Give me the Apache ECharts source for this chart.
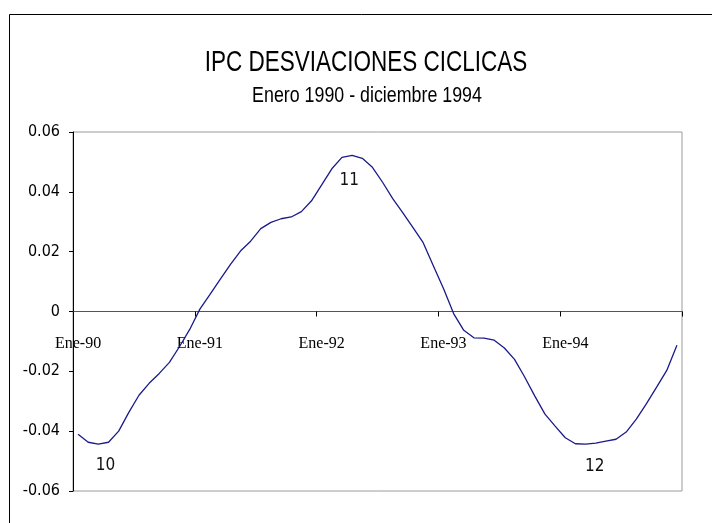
<!DOCTYPE html>
<html>
<head>
<meta charset="utf-8">
<script src="https://cdn.jsdelivr.net/npm/echarts@6/dist/echarts.min.js"></script>
<style>
  html, body { margin: 0; padding: 0; background: #fff; }
  #chart { width: 712px; height: 523px; }
</style>
</head>
<body>
<div id="chart"></div>
<script>
const months = ['Ene', 'Feb', 'Mar', 'Abr', 'May', 'Jun', 'Jul', 'Ago', 'Sep', 'Oct', 'Nov', 'Dic'];
const years = ['90', '91', '92', '93', '94'];

// desviaciones ciclicas mensuales, ene-90 .. dic-94
const desviaciones = [
  -0.0410, -0.0437, -0.0443, -0.0437, -0.0400, -0.0337, -0.0280, -0.0240, -0.0207, -0.0170, -0.0117, -0.0060,
   0.0008,  0.0057,  0.0107,  0.0157,  0.0202,  0.0235,  0.0277,  0.0298,  0.0310,  0.0316,  0.0334,  0.0370,
   0.0423,  0.0477,  0.0515,  0.0522,  0.0512,  0.0482,  0.0432,  0.0377,  0.0330,  0.0280,  0.0230,  0.0153,
   0.0077, -0.0007, -0.0063, -0.0088, -0.0089, -0.0096, -0.0122, -0.0160, -0.0219, -0.0283, -0.0343, -0.0383,
  -0.0422, -0.0442, -0.0443, -0.0440, -0.0433, -0.0427, -0.0403, -0.0360, -0.0308, -0.0253, -0.0197, -0.0113
];

// puntos de giro marcados en el grafico
const giroIdx = [2, 27, 51];
const giroTxt = ['10', '11', '12'];
const giroOffset = [[7, 22], [-3, 25], [-1, 23]];

const yTicks = [-0.06, -0.04, -0.02, 0, 0.02, 0.04, 0.06];

const titulo = 'IPC DESVIACIONES CICLICAS';
const subtitulo = 'Enero 1990 - diciembre 1994';

const categories = [];
years.forEach(y => months.forEach(m => categories.push(m + '-' + y)));

const narrow = "'DejaVu Sans Condensed', 'Liberation Sans', sans-serif";
const serif = "'Liberation Serif', 'DejaVu Serif', serif";

// grid box in px
const gTop = 132, gBottom = 32, H = 523;
// move the category axis up onto the zero line
const zeroOffset = -((H - gBottom) - (gTop + (H - gBottom - gTop) / 2));

const chart = echarts.init(document.getElementById('chart'));

const options = {
  backgroundColor: '#fff',
  animation: false,
  graphic: [
    {
      type: 'rect',
      silent: true,
      shape: { x: 9.5, y: 14.5, width: 720, height: 530 },
      style: { fill: 'none', stroke: '#000', lineWidth: 1 }
    },
    // titles drawn as text so they can be squeezed like the narrow original font
    {
      type: 'text',
      silent: true,
      x: 366, y: 63,
      scaleX: 0.75,
      style: {
        text: titulo,
        font: "30px 'Liberation Sans', Arial, sans-serif",
        align: 'center',
        verticalAlign: 'middle',
        fill: '#000'
      }
    },
    {
      type: 'text',
      silent: true,
      x: 367, y: 96,
      scaleX: 0.81,
      style: {
        text: subtitulo,
        font: "22px 'Liberation Sans', Arial, sans-serif",
        align: 'center',
        verticalAlign: 'middle',
        fill: '#000'
      }
    }
  ],
  grid: {
    left: 73,
    right: 30,
    top: gTop,
    bottom: gBottom,
    containLabel: false,
    outerBoundsMode: 'none',
    show: true,
    borderColor: '#9a9a9a',
    borderWidth: 1
  },
  xAxis: {
    type: 'category',
    data: categories,
    boundaryGap: true,
    offset: zeroOffset,
    axisLine: { onZero: false, lineStyle: { color: '#555', width: 1.2 } },
    axisTick: { show: true, interval: 11, length: 5, lineStyle: { color: '#000', width: 1 } },
    axisLabel: {
      interval: 11,
      margin: 24,
      fontFamily: serif,
      fontSize: 16,
      color: '#000'
    },
    splitLine: { show: false }
  },
  yAxis: {
    type: 'value',
    min: yTicks[0],
    max: yTicks[yTicks.length - 1],
    interval: 0.02,
    axisLine: { show: true, lineStyle: { color: '#000', width: 1 } },
    axisTick: { show: true, length: 4, lineStyle: { color: '#000' } },
    axisLabel: {
      margin: 13,
      fontFamily: narrow,
      fontSize: 16,
      color: '#000',
      formatter: v => (Math.abs(v) < 1e-9 ? '0' : v.toFixed(2))
    },
    splitLine: { show: false }
  },
  series: [
    {
      name: 'IPC',
      type: 'line',
      data: desviaciones,
      showSymbol: false,
      smooth: false,
      lineStyle: { color: '#1a1a8a', width: 1.3 },
      markPoint: {
        symbol: 'circle',
        symbolSize: 1,
        itemStyle: { color: 'rgba(0,0,0,0)' },
        label: {
          show: true,
          position: 'inside',
          fontFamily: narrow,
          fontSize: 17,
          color: '#111'
        },
        data: giroIdx.map((idx, k) => ({
          coord: [idx, desviaciones[idx]],
          label: { formatter: giroTxt[k], offset: giroOffset[k] }
        }))
      }
    }
  ]
};

chart.setOption(options);
</script>
</body>
</html>
